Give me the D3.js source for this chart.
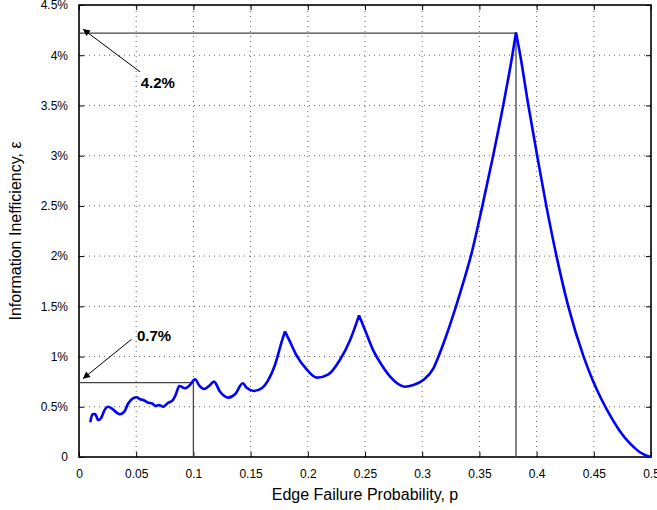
<!DOCTYPE html>
<html>
<head>
<meta charset="utf-8">
<script src="https://cdn.jsdelivr.net/npm/d3@7"></script>
<style>
  body { margin: 0; background: #fff; }
  text { font-family: "Liberation Sans", Arial, sans-serif; }
</style>
</head>
<body>
<svg id="chart"></svg>
<script>
var width = 657;
var height = 510;

var margin = {
  top: 5,
  left: 79,
  right: 6,
  bottom: 53
};

// edge failure probability p, information inefficiency in %
var pValues = [0.0099, 0.0117, 0.014, 0.0169, 0.0192, 0.0221, 0.0251, 0.0286, 0.033, 0.0358,
  0.0396, 0.0431, 0.0475, 0.0504, 0.0533, 0.0562, 0.0606, 0.0635, 0.067, 0.0699,
  0.0737, 0.0781, 0.0816, 0.0845, 0.0877, 0.0927, 0.097, 0.1014, 0.1052, 0.1093,
  0.1139, 0.118, 0.1233, 0.1305, 0.1364, 0.1431, 0.1466, 0.153, 0.1597, 0.1655,
  0.1713, 0.1772, 0.18, 0.1844, 0.19, 0.199, 0.208, 0.218, 0.228, 0.237,
  0.2448, 0.25, 0.257, 0.2646, 0.272, 0.285, 0.2922, 0.301, 0.3098, 0.3156,
  0.3214, 0.3287, 0.336, 0.3432, 0.3526, 0.362, 0.3708, 0.3788, 0.382, 0.3857,
  0.3928, 0.4005, 0.4085, 0.4174, 0.4277, 0.4411, 0.4485, 0.4569, 0.465, 0.473,
  0.482, 0.49, 0.5];
var effValues = [0.345, 0.425, 0.428, 0.368, 0.385, 0.461, 0.501, 0.485, 0.441, 0.425,
  0.451, 0.535, 0.585, 0.595, 0.575, 0.568, 0.541, 0.535, 0.508, 0.518,
  0.501, 0.541, 0.561, 0.618, 0.707, 0.684, 0.717, 0.774, 0.71, 0.677,
  0.71, 0.75, 0.65, 0.591, 0.624, 0.734, 0.69, 0.657, 0.684, 0.767,
  0.916, 1.148, 1.25, 1.148, 1.015, 0.873, 0.79, 0.823, 0.966, 1.165,
  1.41, 1.265, 1.066, 0.916, 0.8, 0.7, 0.717, 0.767, 0.883, 1.04,
  1.22, 1.47, 1.74, 2.03, 2.5, 3.0, 3.5, 4.0, 4.226, 4.0,
  3.5, 3.0, 2.5, 2.0, 1.5, 1.0, 0.78, 0.57, 0.4, 0.255,
  0.13, 0.05, 0];

// sharp peaks of the curve
var cuspP = [0.18, 0.2448, 0.382];

var xTicks = [0, 0.05, 0.1, 0.15, 0.2, 0.25, 0.3, 0.35, 0.4, 0.45, 0.5];
var xTickLabels = ["0", "0.05", "0.1", "0.15", "0.2", "0.25", "0.3", "0.35", "0.4", "0.45", "0.5"];
var yTicks = [0, 0.5, 1, 1.5, 2, 2.5, 3, 3.5, 4, 4.5];
var yTickLabels = ["0", "0.5%", "1%", "1.5%", "2%", "2.5%", "3%", "3.5%", "4%", "4.5%"];

// marked points with their label and arrow tail
var markers = [
  {p: 0.382, e: 4.22, label: "4.2%", lp: 0.054, le: 3.675, tp: 0.0533, te: 3.835},
  {p: 0.1, e: 0.74, label: "0.7%", lp: 0.0507, le: 1.15, tp: 0.046, te: 1.172}
];

var data = pValues.map(function(p, i) { return {p: p, e: effValues[i]}; });

// split at the cusps so each piece is smoothed on its own
var pieces = [];
var current = [];
data.forEach(function(d) {
  current.push(d);
  if (cuspP.indexOf(d.p) >= 0) {
    pieces.push(current);
    current = [d];
  }
});
pieces.push(current);

var svg = d3.select("#chart").attr("width", width).attr("height", height);

var xScale = d3.scaleLinear()
  .domain([0, 0.5])
  .range([margin.left, width - margin.right]);

var yScale = d3.scaleLinear()
  .domain([0, 4.5])
  .range([height - margin.bottom, margin.top]);

var x0 = margin.left, x1 = width - margin.right;
var y0 = height - margin.bottom, y1 = margin.top;

// dotted grid
var grid = svg.append("g")
  .attr("stroke", "#666")
  .attr("stroke-width", 1)
  .attr("stroke-dasharray", "1,4");
grid.selectAll(".gx").data(xTicks.slice(1, -1)).enter().append("line")
  .attr("x1", function(d) { return xScale(d); })
  .attr("x2", function(d) { return xScale(d); })
  .attr("y1", y0).attr("y2", y1);
grid.selectAll(".gy").data(yTicks.slice(1, -1)).enter().append("line")
  .attr("y1", function(d) { return yScale(d); })
  .attr("y2", function(d) { return yScale(d); })
  .attr("x1", x0).attr("x2", x1);

// axes with inner ticks on all sides
var xAxis = svg.append("g")
  .attr("transform", `translate(0, ${y0})`)
  .call(d3.axisBottom(xScale).tickValues(xTicks)
    .tickFormat(function(d, i) { return xTickLabels[i]; })
    .tickSize(-5).tickPadding(12));
var xAxisTop = svg.append("g")
  .attr("transform", `translate(0, ${y1})`)
  .call(d3.axisTop(xScale).tickValues(xTicks).tickFormat("").tickSize(-5));
var yAxis = svg.append("g")
  .attr("transform", `translate(${x0}, 0)`)
  .call(d3.axisLeft(yScale).tickValues(yTicks)
    .tickFormat(function(d, i) { return yTickLabels[i]; })
    .tickSize(-5).tickPadding(11));
var yAxisRight = svg.append("g")
  .attr("transform", `translate(${x1}, 0)`)
  .call(d3.axisRight(yScale).tickValues(yTicks).tickFormat("").tickSize(-5));

svg.selectAll(".domain").remove();
svg.selectAll(".tick line").attr("stroke", "#000").attr("stroke-width", 1);
svg.selectAll(".tick text")
  .attr("fill", "#000")
  .style("font-size", "12px")
  .style("font-family", "'Liberation Sans', Arial, sans-serif");

svg.append("rect")
  .attr("x", x0).attr("y", y1)
  .attr("width", x1 - x0).attr("height", y0 - y1)
  .attr("fill", "none").attr("stroke", "#000").attr("stroke-width", 1.6);

// reference lines
var refs = svg.append("g").attr("stroke", "#444").attr("stroke-width", 1.3).attr("fill", "none");
refs.selectAll("path").data(markers).enter().append("path")
  .attr("d", function(d) {
    return "M" + xScale(0) + "," + yScale(d.e) + "H" + xScale(d.p) + "V" + yScale(0);
  });

// curve
var line = d3.line()
  .x(function(d) { return xScale(d.p); })
  .y(function(d) { return yScale(d.e); })
  .curve(d3.curveMonotoneX);

svg.append("path")
  .attr("fill", "none")
  .attr("stroke", "#0000ff")
  .attr("stroke-width", 2.6)
  .attr("stroke-linejoin", "round")
  .attr("d", pieces.map(function(s) { return line(s); }).join(""));

// arrows and labels
svg.append("defs").append("marker")
  .attr("id", "arrow")
  .attr("viewBox", "0 0 10 10")
  .attr("refX", 10).attr("refY", 5)
  .attr("markerWidth", 10).attr("markerHeight", 7)
  .attr("markerUnits", "userSpaceOnUse")
  .attr("orient", "auto")
  .append("path")
  .attr("d", "M0,0L10,5L0,10z")
  .attr("fill", "#000");

svg.selectAll(".arrow").data(markers).enter().append("line")
  .attr("x1", function(d) { return xScale(d.tp); })
  .attr("y1", function(d) { return yScale(d.te); })
  .attr("x2", function(d) { return xScale(0.0034); })
  .attr("y2", function(d) { return yScale(d.e) - 4; })
  .attr("stroke", "#000")
  .attr("stroke-width", 1)
  .attr("marker-end", "url(#arrow)");

svg.selectAll(".lbl").data(markers).enter().append("text")
  .attr("x", function(d) { return xScale(d.lp); })
  .attr("y", function(d) { return yScale(d.le); })
  .style("font-size", "15px")
  .style("font-weight", "bold")
  .text(function(d) { return d.label; });

// axis titles
svg.append("text")
  .attr("x", (x0 + x1) / 2)
  .attr("y", 500)
  .attr("text-anchor", "middle")
  .style("font-size", "16px")
  .text("Edge Failure Probability, p");

svg.append("text")
  .attr("transform", `translate(21, ${(y0 + y1) / 2}) rotate(-90)`)
  .attr("text-anchor", "middle")
  .style("font-size", "16px")
  .text("Information Inefficiency, \u03b5");
</script>
</body>
</html>
